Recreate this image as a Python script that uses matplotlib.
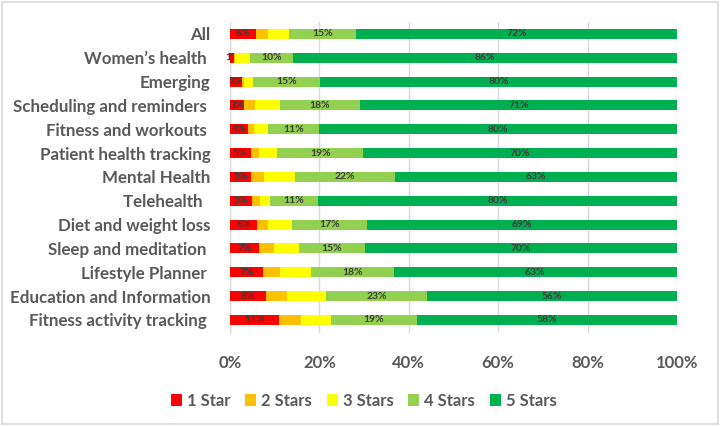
import matplotlib.pyplot as plt
import numpy as np
from matplotlib.patches import Rectangle

categories = ['All', 'Women\u2019s health ', 'Emerging', 'Scheduling and reminders ',
              'Fitness and workouts ', 'Patient health tracking', 'Mental Health',
              'Telehealth  ', 'Diet and weight loss', 'Sleep and meditation ',
              'Lifestyle Planner ', 'Education and Information', 'Fitness activity tracking ']

star1 = [5.8, 1.0, 2.6, 3.2, 4.1, 4.6, 4.7, 5.0, 6.1, 6.6, 7.3, 8.0, 11.0]
star2 = [2.6, 0.2, 0.5, 2.5, 1.3, 1.9, 2.9, 1.7, 2.5, 3.2, 3.9, 4.7, 4.9]
star3 = [4.8, 3.2, 2.1, 5.5, 3.2, 4.1, 7.0, 2.2, 5.2, 5.6, 7.0, 8.8, 6.6]
star4 = [15.0, 9.8, 15.0, 17.9, 11.3, 19.2, 22.3, 10.9, 16.9, 14.8, 18.4, 22.6, 19.3]
star5 = [71.8, 85.8, 79.8, 70.9, 80.1, 70.2, 63.1, 80.2, 69.3, 69.8, 63.4, 55.9, 58.2]

series = ['1 Star', '2 Stars', '3 Stars', '4 Stars', '5 Stars']
colors = ['#FF0000', '#FFC000', '#FFFF00', '#92D050', '#00B050']
labelled = [True, False, False, True, True]

plt.rcParams['font.family'] = ['Lato', 'DejaVu Sans']
grey = '#595959'

fig = plt.figure(figsize=(7.2, 4.26), dpi=100)
ax = fig.add_axes([0.3194, 0.2183, 0.6208, 0.7300])

y = np.arange(len(categories))
left = np.zeros(len(categories))
for vals, name, col, lab in zip([star1, star2, star3, star4, star5], series, colors, labelled):
    vals = np.array(vals)
    bars = ax.barh(y, vals, left=left, height=0.42, color=col, label=name, zorder=3)
    if lab:
        ax.bar_label(bars, labels=['%d%%' % round(v) for v in vals], label_type='center',
                     fontsize=7.5, fontweight='bold', color='#3a3a3a')
    left += vals

ax.set_xlim(0, 100)
ax.set_ylim(len(categories) - 0.45, -0.5)
ax.set_yticks(y)
ax.set_yticklabels(categories, fontsize=12.2, fontweight='bold', color=grey)
ax.set_xticks(np.arange(0, 101, 20))
ax.set_xticklabels(['%d%%' % t for t in range(0, 101, 20)], fontsize=12,
                   fontweight='bold', color=grey)
ax.tick_params(axis='y', length=0, pad=14)
ax.tick_params(axis='x', length=0, pad=16)
ax.grid(axis='x', color='#D9D9D9', linewidth=1, zorder=0)
for s in ['top', 'right', 'bottom']:
    ax.spines[s].set_visible(False)
ax.spines['left'].set_color('#D9D9D9')

leg = fig.legend(loc='center', bbox_to_anchor=(0.505, 0.059), ncol=5, frameon=False,
                 handlelength=0.65, handleheight=0.65, handletextpad=0.3, columnspacing=0.9,
                 prop={'size': 12, 'weight': 'bold'})
for t in leg.get_texts():
    t.set_color(grey)

fig.patches.append(Rectangle((0.003, 0.004), 0.994, 0.992, transform=fig.transFigure,
                             fill=False, edgecolor='#D9D9D9', linewidth=1.2))

fig.savefig('out.png', dpi=100)
